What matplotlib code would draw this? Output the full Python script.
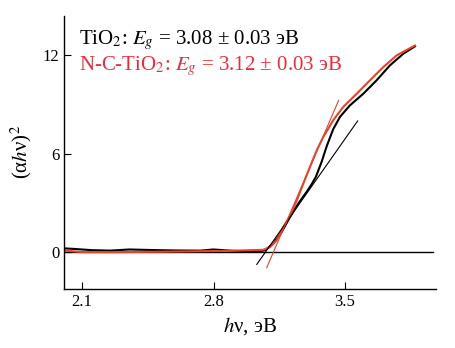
import numpy as np
import matplotlib.pyplot as plt

plt.rcParams['font.family'] = ['Liberation Serif', 'DejaVu Serif']
plt.rcParams['mathtext.fontset'] = 'stix'

# spectra
hv_tio2 = [2.0, 2.05, 2.15, 2.25, 2.35, 2.5, 2.6, 2.73, 2.8, 2.9, 3.0, 3.05, 3.074, 3.118,
           3.163, 3.207, 3.251, 3.295, 3.32, 3.345, 3.375, 3.402, 3.437, 3.473, 3.526, 3.597,
           3.668, 3.739, 3.81, 3.872]
y_tio2 = [0.23, 0.2, 0.12, 0.09, 0.16, 0.12, 0.1, 0.09, 0.16, 0.08, 0.05, 0.05, 0.12, 0.52,
          1.23, 2.14, 2.96, 3.67, 4.1, 4.6, 5.5, 6.45, 7.5, 8.25, 8.95, 9.66,
          10.48, 11.39, 12.1, 12.55]

hv_nc = [2.0, 2.1, 2.3, 2.5, 2.7, 2.9, 3.0, 3.065, 3.1, 3.136, 3.171, 3.207, 3.243, 3.278,
         3.313, 3.349, 3.384, 3.437, 3.49, 3.562, 3.633, 3.704, 3.775, 3.872]
y_nc = [0.1, 0.0, 0.0, 0.02, 0.05, 0.08, 0.12, 0.14, 0.3, 0.72, 1.53, 2.2, 3.16, 4.18,
        5.19, 6.2, 7.02, 8.04, 8.85, 9.66, 10.48, 11.29, 12.0, 12.6]

# tangent lines (end points)
tan_tio2_x = [3.03, 3.567]
tan_tio2_y = [-0.75, 8.0]
tan_nc_x = [3.083, 3.466]
tan_nc_y = [-0.95, 9.26]

label_tio2 = r'TiO$_2$: $E_g$ = 3.08 ± 0.03 эВ'
label_nc = r'N-C-TiO$_2$: $E_g$ = 3.12 ± 0.03 эВ'

red_line = '#e8412c'
red_text = '#ee2a3a'

fig = plt.figure(figsize=(4.56, 3.48), dpi=100)
ax = fig.add_axes([64/456, 1 - 289/348, (436-64)/456, (289-16)/348])

ax.plot([2.0, 3.966], [0, 0], color='black', lw=1.0)
ax.plot(hv_tio2, y_tio2, color='black', lw=1.5)
ax.plot(hv_nc, y_nc, color=red_line, lw=1.5)
ax.plot(tan_tio2_x, tan_tio2_y, color='black', lw=0.8)
ax.plot(tan_nc_x, tan_nc_y, color=red_line, lw=0.8)

ax.set_xlim(2.004, 3.984)
ax.set_ylim(-2.25, 14.4)
ax.set_xticks([2.1, 2.8, 3.5])
ax.set_yticks([0, 6, 12])
ax.set_xticklabels(['2.1', '2.8', '3.5'])
ax.tick_params(direction='in', labelsize=12, length=5, width=0.8)
for s in ['top', 'right']:
    ax.spines[s].set_visible(False)
for s in ['left', 'bottom']:
    ax.spines[s].set_linewidth(1.0)

ax.set_xlabel(r'$h$ν, эВ', fontsize=15, labelpad=4)
ax.set_ylabel(r'(α$h$ν)$^2$', fontsize=15, labelpad=6)

ax.text(0.04, 0.955, label_tio2, transform=ax.transAxes, fontsize=15, color='black', va='top')
ax.text(0.04, 0.86, label_nc, transform=ax.transAxes, fontsize=15, color=red_text, va='top')

fig.savefig('out.png', dpi=100)
